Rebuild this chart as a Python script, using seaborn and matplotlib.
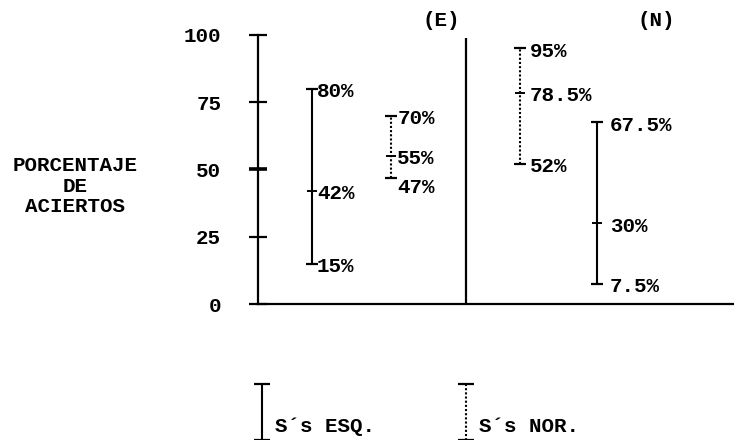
import matplotlib
matplotlib.use("Agg")
import matplotlib.pyplot as plt
import pandas as pd
import seaborn as sns

# Porcentaje de aciertos: rango (mínimo-máximo) y mediana de cada grupo de sujetos
grupos = ["ESQ", "NOR", "NOR", "ESQ"]
condiciones = ["E", "E", "N", "N"]
minimos = [15, 47, 52, 7.5]
medianas = [42, 55, 78.5, 30]
maximos = [80, 70, 95, 67.5]
yticks = [0, 25, 50, 75, 100]
paneles = ["(E)", "(N)"]
leyenda_grupos = ["ESQ", "NOR"]
leyenda_textos = ["S´s ESQ.", "S´s NOR."]
titulo_y = "PORCENTAJE\nDE\nACIERTOS"

# Disposición horizontal (unidades del eje x) y separación de las etiquetas
xpos = [0.68, 1.68, 3.30, 4.27]
x_division = 2.62
x_paneles = [2.31, 5.02]
desp_etiqueta = [3.6, 4.3, 7.2, 9.4]        # puntos a la derecha de la barra
x_leyenda = [0.05, 2.62]
estilo = {"ESQ": "", "NOR": (1, 1)}

sns.set_theme(style="white")
plt.rcParams["font.family"] = ["Liberation Mono", "DejaVu Sans Mono"]
plt.rcParams["font.weight"] = "bold"

fig = plt.figure(figsize=(7.34, 4.40), dpi=100)
ax = fig.add_axes([258 / 734, (440 - 304) / 440, 476 / 734, 269 / 440])

# Tabla larga con los extremos de cada rango
filas = []
for i, (g, x, lo, hi) in enumerate(zip(grupos, xpos, minimos, maximos)):
    filas.append({"id": i, "grupo": g, "x": x, "y": lo})
    filas.append({"id": i, "grupo": g, "x": x, "y": hi})
df = pd.DataFrame(filas)

sns.lineplot(data=df, x="x", y="y", units="id", estimator=None, style="grupo",
             dashes=estilo, color="black", linewidth=1.5, sort=False,
             legend=False, ax=ax)

# Topes de los extremos y marca de la mediana, con sus etiquetas
for i, x in enumerate(xpos):
    ax.plot([x, x], [minimos[i], maximos[i]], ls="none", marker="_",
            ms=9, mew=1.6, color="black")
    ax.plot([x], [medianas[i]], ls="none", marker="_", ms=7, mew=1.4,
            color="black")
    dx = desp_etiqueta[i]
    for v, dy in ((maximos[i], -2), (medianas[i], -2),
                  (minimos[i], -7 if grupos[i] == "NOR" and condiciones[i] == "E" else -2)):
        ax.annotate(f"{v:g}%", xy=(x, v), xytext=(dx, dy),
                    textcoords="offset points", ha="left", va="center",
                    fontsize=15, color="black")

# División entre las dos condiciones
ax.plot([x_division, x_division], [0, 99], color="black", lw=1.6,
        solid_capstyle="butt")
for xp, t in zip(x_paneles, paneles):
    ax.text(xp, 105.5, t, ha="center", va="center", fontsize=15,
            color="black", clip_on=False)

# Ejes
ax.set_xlim(0, 6)
ax.set_ylim(0, 100)
ax.set_yticks(yticks)
ax.set_xticks([])
ax.set_xlabel("")
ax.set_ylabel("")
for s in ("top", "right"):
    ax.spines[s].set_visible(False)
for s in ("left", "bottom"):
    ax.spines[s].set_linewidth(1.6)
    ax.spines[s].set_color("black")
ax.tick_params(axis="y", direction="inout", length=13, width=1.6, pad=20,
               labelsize=15, colors="black", left=True)
ax.yaxis.get_major_ticks()[2].tick1line.set_markeredgewidth(2.6)

fig.text(75 / 734, 1 - 186 / 440, titulo_y, ha="center", va="center",
         fontsize=15, linespacing=1.12, color="black")

# Leyenda dibujada bajo el gráfico
for xl, g, t in zip(x_leyenda, leyenda_grupos, leyenda_textos):
    ax.plot([xl, xl], [-29.7, -50.5], color="black", lw=1.5,
            dashes=estilo[g] if estilo[g] else (None, None),
            clip_on=False)
    ax.plot([xl, xl], [-29.7, -50.5], ls="none", marker="_", ms=11,
            mew=1.6, color="black", clip_on=False)
    ax.text(xl + 0.17, -45.5, t, ha="left", va="center", fontsize=15,
            color="black", clip_on=False)

fig.savefig("out.png", dpi=100, facecolor="white")
